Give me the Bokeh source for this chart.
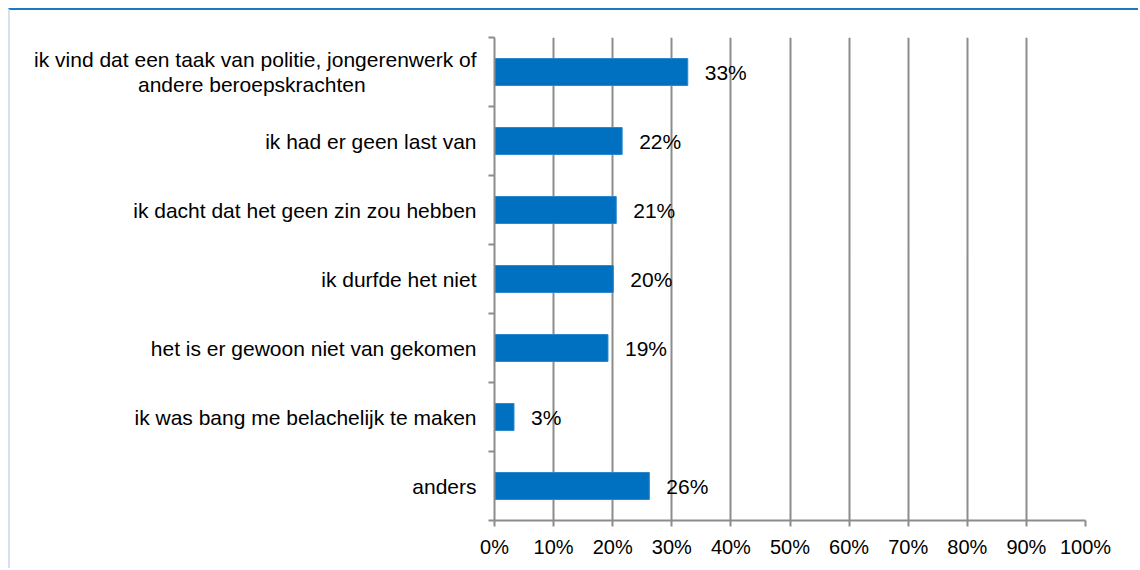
from bokeh.plotting import figure
from bokeh.models import FixedTicker, Range1d, ColumnDataSource
from bokeh.core.properties import value
from bokeh.embed import file_html
from bokeh.resources import INLINE

categories = [
    "ik vind dat een taak van politie, jongerenwerk of\nandere beroepskrachten",
    "ik had er geen last van",
    "ik dacht dat het geen zin zou hebben",
    "ik durfde het niet",
    "het is er gewoon niet van gekomen",
    "ik was bang me belachelijk te maken",
    "anders",
]
values = [32.7, 21.6, 20.6, 20.1, 19.2, 3.3, 26.2]
value_labels = ["33%", "22%", "21%", "20%", "19%", "3%", "26%"]
x_ticks = [0, 10, 20, 30, 40, 50, 60, 70, 80, 90, 100]

n = len(categories)
ypos = [n - 0.5 - i for i in range(n)]

FONT = "Liberation Sans"
GRID = "#8c8c8c"
NBSP = "\u00a0"


def centred(label):
    # right-aligned axis labels: pad the short line so the lines look centred
    if "\n" not in label:
        return label
    a, b = label.split("\n")
    pad = round((len(a) - len(b)) * 0.72)
    return a + "\n" + b + NBSP * pad


p = figure(width=1130, height=560, output_backend="svg", toolbar_location=None,
           x_range=Range1d(0, 100), y_range=Range1d(0, n),
           min_border_left=484, min_border_right=55, min_border_top=27, min_border_bottom=50)
p.styles = {"margin-top": "8px", "margin-left": "8px",
            "border-top": "2px solid #1f77c0", "border-left": "2px solid #d3e1f1"}
p.outline_line_color = None
p.background_fill_color = "white"
p.border_fill_color = "white"

src = ColumnDataSource(dict(y=ypos, v=values, lab=value_labels))
p.hbar(y="y", left=0, right="v", height=0.39, source=src, fill_color="#0070c0",
       line_color="#2a86cc", line_width=1)
p.text(x="v", y="y", text="lab", source=src, x_offset=17, text_baseline="middle",
       text_font=value(FONT), text_font_size="21px", text_color="black")

# x axis
p.xaxis.ticker = FixedTicker(ticks=x_ticks)
p.xaxis.major_label_overrides = {t: f"{t}%" for t in x_ticks}
p.xaxis.major_label_text_font = FONT
p.xaxis.major_label_text_font_size = "20px"
p.xaxis.major_label_text_color = "black"
p.xaxis.major_label_standoff = 9
p.xaxis.axis_line_color = GRID
p.xaxis.axis_line_width = 2
p.xaxis.major_tick_line_color = GRID
p.xaxis.major_tick_line_width = 2
p.xaxis.major_tick_out = 6
p.xaxis.major_tick_in = 0
p.xaxis.minor_tick_line_color = None

# y axis
p.yaxis.ticker = FixedTicker(ticks=ypos, minor_ticks=list(range(n + 1)))
p.yaxis.major_label_overrides = {y: centred(c) for y, c in zip(ypos, categories)}
p.yaxis.major_label_text_font = FONT
p.yaxis.major_label_text_font_size = "21px"
p.yaxis.major_label_text_line_height = 1.1
p.yaxis.major_label_text_color = "black"
p.yaxis.major_label_text_align = "right"
p.yaxis.major_label_standoff = 12
p.yaxis.axis_line_color = GRID
p.yaxis.axis_line_width = 2
p.yaxis.major_tick_line_color = None
p.yaxis.major_tick_out = 0
p.yaxis.major_tick_in = 0
p.yaxis.minor_tick_line_color = GRID
p.yaxis.minor_tick_line_width = 2
p.yaxis.minor_tick_out = 6
p.yaxis.minor_tick_in = 0

p.xgrid.grid_line_color = GRID
p.xgrid.grid_line_width = 2
p.ygrid.grid_line_color = None

open("out.html", "w").write(file_html(p, INLINE))
